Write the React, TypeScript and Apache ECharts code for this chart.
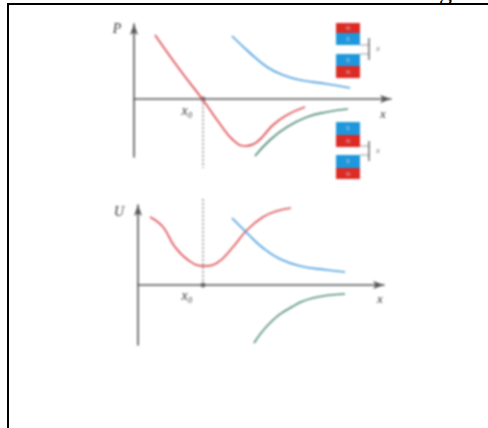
import React, { useEffect, useRef } from "react";
import * as echarts from "echarts";

const forceRed = [[21, 64], [46, 29], [69, -1], [86, -25], [99, -41], [111, -47], [123, -43], [139, -26], [153, -16], [171, -8]];
const forceBlue = [[98, 63], [116, 46], [133, 32], [149, 24], [166, 19], [193, 15], [216, 11]];
const forceGreen = [[121, -57], [136, -41], [153, -28], [173, -18], [193, -13], [214, -10]];
const forceGuide = [[69, 0], [69, -69]];
const forceDot = [[69, 0]];

const energyRed = [[12, 68], [25, 58], [37, 38], [50, 25], [65, 19], [79, 22], [95, 38], [109, 55], [125, 68], [139, 74], [153, 77]];
const energyBlue = [[94, 67], [109, 52], [125, 37], [142, 26], [162, 19], [189, 15], [207, 13]];
const energyGreen = [[116, -58], [132, -38], [152, -23], [175, -13], [207, -9]];
const energyGuide = [[65, 0], [65, 88]];
const energyDot = [[65, 0]];

const RED = "#dd4f55";
const BLUE = "#4a9ede";
const GREEN = "#4f8c76";
const AXIS = "#555";

const axisBase = () => ({
  type: "value",
  axisLabel: { show: false },
  axisTick: { show: false },
  splitLine: { show: false },
  axisLine: {
    show: true,
    onZero: true,
    symbol: ["none", "arrow"],
    symbolSize: [6, 11],
    lineStyle: { color: AXIS, width: 1.6 },
  },
});

const curve = (data: number[][], color: string, i: number) => ({
  type: "line",
  data,
  xAxisIndex: i,
  yAxisIndex: i,
  smooth: 0.45,
  showSymbol: false,
  silent: true,
  clip: false,
  lineStyle: { color, width: 1.7 },
});

const guide = (data: number[][], i: number) => ({
  type: "line",
  data,
  xAxisIndex: i,
  yAxisIndex: i,
  showSymbol: false,
  silent: true,
  clip: false,
  lineStyle: { color: "#555", width: 1, type: [2, 2] },
});

const dot = (data: number[][], i: number) => ({
  type: "scatter",
  data,
  xAxisIndex: i,
  yAxisIndex: i,
  symbolSize: 5,
  silent: true,
  clip: false,
  itemStyle: { color: "#555" },
});

const label = (text: string, x: number, y: number, size: number, color = "#333") => ({
  type: "text",
  x,
  y,
  silent: true,
  style: {
    text,
    fill: color,
    font: `italic ${size}px "Liberation Serif", serif`,
    textAlign: "center",
    textVerticalAlign: "middle",
  },
});

const rect = (x: number, y: number, h: number, fill: string) => ({
  type: "rect",
  silent: true,
  shape: { x, y, width: 24, height: h },
  style: { fill },
});

const seg = (x1: number, y1: number, x2: number, y2: number, w = 1, stroke = "#555") => ({
  type: "line",
  silent: true,
  shape: { x1, y1, x2, y2 },
  style: { stroke, lineWidth: w },
});

const pole = (t: string, x: number, y: number) => ({
  type: "text",
  x,
  y,
  silent: true,
  style: { text: t, fill: "#ddd", font: '5px "Liberation Sans", sans-serif', textAlign: "center", textVerticalAlign: "middle" },
});

const magnets = [
  rect(336, 23, 10, "#dc2a24"), rect(336, 33, 12, "#1f97dc"), pole("N", 348, 28), pole("S", 348, 39),
  rect(336, 54, 12, "#1f97dc"), rect(336, 66, 12, "#dc2a24"), pole("S", 348, 60), pole("N", 348, 72),
  seg(360, 45, 369, 45, 1, "#999"), seg(360, 54, 369, 54, 1, "#999"), seg(369, 38, 369, 60, 1.3),
  rect(336, 122, 13, "#1f97dc"), rect(336, 135, 12, "#dc2a24"), pole("S", 348, 128), pole("N", 348, 141),
  rect(336, 155, 13, "#1f97dc"), rect(336, 168, 11, "#dc2a24"), pole("S", 348, 161), pole("N", 348, 174),
  seg(360, 146, 369, 146, 1, "#999"), seg(360, 155, 369, 155, 1, "#999"), seg(369, 141, 369, 161, 1.3),
];

export default function App() {
  const ref = useRef<HTMLDivElement>(null);
  useEffect(() => {
    const chart = echarts.init(ref.current!, undefined, { renderer: "svg" });
    chart.setOption({
      animation: false,
      grid: [
        { left: 134, top: 24, width: 257, height: 133 },
        { left: 138, top: 205, width: 246, height: 140 },
      ],
      xAxis: [
        { ...axisBase(), gridIndex: 0, min: 0, max: 257 },
        { ...axisBase(), gridIndex: 1, min: 0, max: 246 },
      ],
      yAxis: [
        { ...axisBase(), gridIndex: 0, min: -58, max: 75 },
        { ...axisBase(), gridIndex: 1, min: -60, max: 80 },
      ],
      series: [
        guide(forceGuide, 0),
        curve(forceRed, RED, 0),
        curve(forceBlue, BLUE, 0),
        curve(forceGreen, GREEN, 0),
        dot(forceDot, 0),
        guide(energyGuide, 1),
        curve(energyRed, RED, 1),
        curve(energyBlue, BLUE, 1),
        curve(energyGreen, GREEN, 1),
        dot(energyDot, 1),
      ],
      graphic: [
        ...magnets,
        label("P", 117, 28, 14),
        label("x₀", 187, 110, 14),
        label("x", 383, 113, 13),
        label("x", 378, 48, 8, "#666"),
        label("x", 378, 150, 8, "#666"),
        label("U", 119, 211, 14),
        label("x₀", 187, 295, 14),
        label("x", 380, 298, 13),
      ],
    });
    return () => chart.dispose();
  }, []);

  return (
    <div style={{ position: "fixed", left: 0, top: 0, width: 488, height: 428, overflow: "hidden", background: "#fff" }}>
      <div
        style={{
          position: "absolute",
          left: 439,
          top: -21,
          fontFamily: '"Liberation Serif", serif',
          fontSize: 26,
          lineHeight: "26px",
          color: "#000",
        }}
      >
        g
      </div>
      <div style={{ position: "absolute", left: 7, top: 3, width: 481, height: 425, borderTop: "2px solid #000", borderLeft: "2px solid #000", boxSizing: "border-box", background: "#fff" }} />
      <div ref={ref} style={{ position: "absolute", left: 0, top: 0, width: 488, height: 428, filter: "blur(0.8px)" }} />
    </div>
  );
}
